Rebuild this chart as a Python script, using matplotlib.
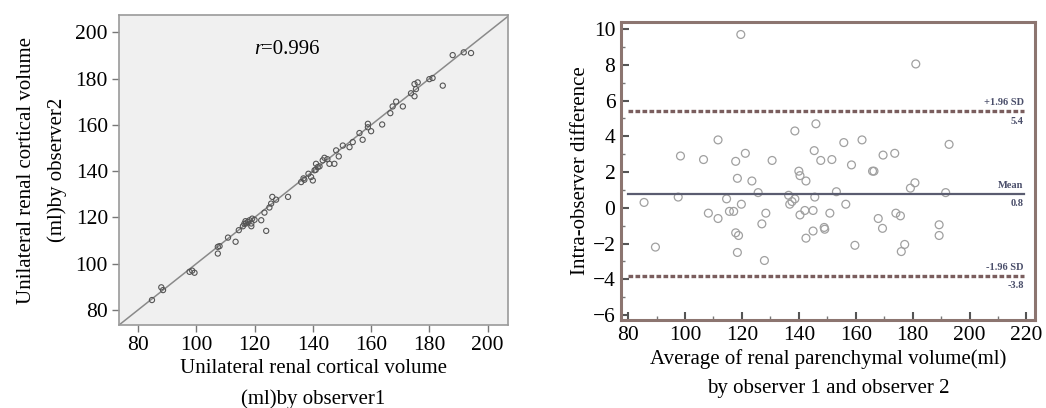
import numpy as np
import matplotlib
matplotlib.use("Agg")
import matplotlib.pyplot as plt
from matplotlib.ticker import MultipleLocator

plt.rcParams['font.family'] = ['Liberation Serif', 'DejaVu Serif']

# left panel: observer 1 vs observer 2
obs1 = [84.8, 88.0, 88.6, 97.7, 99.4, 98.6, 107.4, 107.4, 108.0, 110.9, 113.5, 114.6,
        116.0, 116.9, 117.7, 118.3, 118.9, 117.1, 119.2, 120.0, 118.9, 122.3, 123.4,
        124.0, 125.1, 125.7, 126.1, 127.4, 131.5, 136.0, 137.1, 139.4, 140.0, 140.6,
        141.1, 141.7, 142.3, 143.4, 144.0, 145.7, 147.4, 148.0, 148.9, 150.3, 152.6,
        153.7, 156.0, 157.1, 158.9, 158.9, 160.0, 163.8, 166.6, 167.4, 168.6, 170.9,
        173.7, 174.9, 174.9, 176.0, 175.4, 180.0, 181.1, 184.6, 188.0, 191.8, 194.3,
        136.8, 138.5, 145.0, 116.5, 141.0]
obs2 = [84.3, 89.8, 88.6, 96.5, 96.1, 97.0, 104.4, 107.3, 107.6, 111.3, 109.5, 114.5,
        116.2, 118.4, 118.1, 118.8, 117.4, 117.4, 119.5, 119.0, 116.2, 118.8, 122.1,
        114.2, 124.3, 126.0, 128.9, 127.7, 128.9, 135.3, 136.3, 137.5, 136.0, 140.4,
        143.2, 141.8, 142.1, 144.7, 145.8, 143.2, 143.2, 149.0, 146.4, 151.1, 150.4,
        152.6, 156.5, 153.6, 160.5, 159.0, 157.3, 160.2, 165.1, 168.0, 170.1, 168.0,
        173.7, 177.7, 172.4, 178.4, 175.5, 179.8, 180.3, 177.0, 190.2, 191.4, 191.1,
        136.9, 138.9, 145.2, 117.3, 140.6]
r_text = "=0.996"

# right panel: Bland-Altman
avg = [85.6, 89.6, 97.6, 98.4, 106.5, 111.6, 108.2, 111.6, 114.6, 115.6, 117.1, 117.8,
       118.4, 117.8, 118.8, 118.4, 119.6, 119.8, 121.2, 123.5, 125.7, 127.0, 128.4,
       127.9, 130.6, 136.4, 136.8, 138.6, 137.6, 138.6, 140.0, 140.4, 142.5, 140.4,
       142.1, 142.5, 145.0, 145.0, 145.4, 146.0, 145.6, 147.7, 148.9, 149.1, 150.9,
       151.6, 153.2, 155.8, 156.5, 158.5, 159.7, 162.2, 165.9, 166.4, 167.9, 169.4,
       169.6, 173.7, 174.1, 175.7, 177.2, 176.0, 179.2, 180.8, 181.1, 189.3, 189.3,
       191.6, 192.8]
diff = [0.3, -2.2, 0.6, 2.9, 2.7, 3.8, -0.3, -0.6, 0.5, -0.2, -0.2, 2.6,
        1.65, -1.4, -1.55, -2.5, 9.7, 0.2, 3.05, 1.5, 0.85, -0.9, -0.3,
        -2.95, 2.65, 0.7, 0.2, 0.5, 0.35, 4.3, 2.05, 1.8, 1.5, -0.4,
        -0.15, -1.7, -0.15, -1.3, 3.2, 4.7, 0.6, 2.65, -1.1, -1.2, -0.3,
        2.7, 0.9, 3.65, 0.2, 2.4, -2.1, 3.8, 2.05, 2.05, -0.6, -1.15,
        2.95, 3.05, -0.3, -0.45, -2.05, -2.45, 1.1, 1.4, 8.05, -0.95, -1.55,
        0.85, 3.55]
mean_diff = 0.8
upper_loa = 5.4
lower_loa = -3.8

fig = plt.figure(figsize=(10.46, 4.08), dpi=100)

# ---- left panel
ax1 = fig.add_axes([0.1138, 0.2034, 0.3719, 0.7596])
ax1.set_facecolor('#f0f0f0')
ax1.set_xlim(73.5, 207)
ax1.set_ylim(73.5, 207.5)
ax1.plot([73.5, 207.5], [73.5, 207.5], color='#8a8a8a', lw=1.1, zorder=1)
ax1.scatter(obs1, obs2, s=14, facecolors='none', edgecolors='#555555', linewidths=0.8, zorder=2)
ax1.text(120, 192.5, "r", style='italic', fontsize=15, ha='left', va='center')
ax1.text(122.2, 192.5, r_text, fontsize=15, ha='left', va='center')
ax1.set_xticks(np.arange(80, 201, 20))
ax1.set_yticks(np.arange(80, 201, 20))
for s in ax1.spines.values():
    s.set_color('#9a9a9a')
    s.set_linewidth(1.2)
ax1.tick_params(direction='out', length=5, width=1, color='#777777', labelsize=15.5, pad=3)
ax1.set_xlabel("Unilateral renal cortical volume\n(ml)by observer1", fontsize=15, linespacing=1.75, labelpad=3)
ax1.set_ylabel("Unilateral renal cortical volume\n(ml)by observer2", fontsize=15, linespacing=1.75, labelpad=6)

# ---- right panel
ax2 = fig.add_axes([0.5937, 0.2157, 0.3958, 0.7304])
ax2.set_xlim(77.5, 223)
ax2.set_ylim(-6.28, 10.4)
ax2.scatter(avg, diff, s=32, facecolors='none', edgecolors='#a0a0a0', linewidths=0.9, zorder=2)
ax2.plot([80, 219], [mean_diff, mean_diff], color='#5a5c70', lw=1.6, zorder=3)
for v in (upper_loa, lower_loa):
    ax2.plot([80, 219], [v, v], color='#7a5e5e', lw=2.4, ls=(0, (1.4, 0.7)), zorder=3)
lab = dict(fontsize=7.5, color='#4a4e6a', ha='right', fontweight='bold')
ax2.text(219, upper_loa + 0.22, "+1.96 SD", va='bottom', **lab)
ax2.text(219, upper_loa - 0.3, "%.1f" % upper_loa, va='top', **lab)
ax2.text(219, mean_diff + 0.22, "Mean", va='bottom', **lab)
ax2.text(219, mean_diff - 0.3, "%.1f" % mean_diff, va='top', **lab)
ax2.text(219, lower_loa + 0.22, "-1.96 SD", va='bottom', **lab)
ax2.text(219, lower_loa - 0.3, "%.1f" % lower_loa, va='top', **lab)
ax2.set_xticks(np.arange(80, 221, 20))
ax2.set_yticks(np.arange(-6, 11, 2))
ax2.xaxis.set_minor_locator(MultipleLocator(10))
ax2.yaxis.set_minor_locator(MultipleLocator(1))
for s in ax2.spines.values():
    s.set_color('#8c7570')
    s.set_linewidth(2.2)
ax2.tick_params(which='major', direction='in', length=6, width=1.5, color='#555555', labelsize=15.5, pad=4)
ax2.tick_params(which='minor', direction='in', length=3, width=1, color='#777777')
ax2.set_xlabel("Average of renal parenchymal volume(ml)\nby observer 1 and observer 2", fontsize=15, linespacing=1.75, labelpad=3)
ax2.set_ylabel("Intra-observer difference", fontsize=15, labelpad=2)

fig.savefig("out.png", dpi=100)
